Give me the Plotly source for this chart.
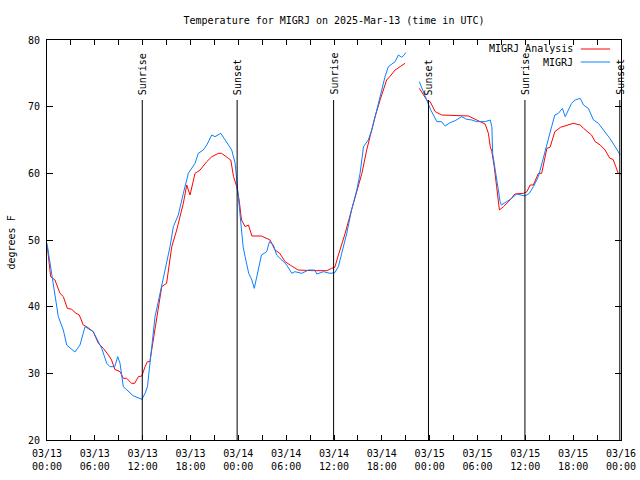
import pandas as pd
import plotly.graph_objects as go

# ---- data (hours after 2025-03-13 00:00 UTC, degrees F) ----
obs_hours = [0.0, 0.59, 0.88, 1.42, 2.05, 2.47, 3.5, 4.14, 4.77, 5.8, 6.86, 7.49, 7.9, 8.5, 8.87,
             9.16, 9.57, 10.4, 10.8, 11.9, 12.3, 12.6, 12.84, 13.55, 14.18, 14.8, 15.43, 15.85,
             16.47, 17.1, 17.73, 18.57, 18.98, 19.6, 20.04, 20.67, 21.08, 21.8, 22.6, 23.17, 23.6,
             23.8, 24.0, 24.2, 24.6, 24.85, 25.3, 25.7, 26.0, 26.5, 26.9, 27.56, 27.9, 28.4, 28.8,
             29.45, 30.07, 30.7, 31.1, 31.96, 32.8, 33.6, 33.84, 34.67, 35.5, 36.1, 36.55, 36.97,
             37.6, 38.2, 38.86, 39.27, 39.7, 40.3, 40.74, 41.37, 41.99, 42.4, 42.82, 43.66, 44.08,
             44.5, 44.8, 45.0, 45.8, 46.7, 47.5, 48.1, 48.9, 49.5, 49.94, 50.56, 51.2, 51.6, 52.0,
             52.66, 53.3, 53.9, 54.96, 55.6, 55.8, 55.9, 56.2, 56.5, 56.84, 57.0, 57.7, 58.3, 58.9,
             59.56, 59.97, 60.5, 61.0, 61.64, 62.27, 62.7, 63.3, 63.7, 64.15, 64.65, 65.0, 65.4,
             65.8, 66.25, 66.88, 67.3, 67.9, 68.55, 69.17, 69.8, 70.6, 71.27, 71.9]
obs_temps = [49.5, 45.0, 42.5, 38.5, 36.5, 34.25, 33.2, 34.25, 37.0, 36.25, 33.75, 31.5, 31.0, 31.0, 32.5,
             31.5, 28.0, 27.0, 26.65, 26.1, 27.0, 28.0, 30.5, 38.5, 42.0, 45.5, 49.0, 52.0,
             53.75, 57.0, 60.0, 61.5, 63.0, 63.5, 64.25, 65.75, 65.5, 66.0, 64.5, 63.5, 61.5,
             59.0, 55.5, 53.0, 49.0, 47.5, 45.0, 44.0, 42.75, 45.5, 47.75, 48.25, 49.75, 49.25, 47.75,
             47.0, 46.25, 45.0, 45.25, 45.0, 45.5, 45.5, 44.9, 45.25, 45.0, 45.1, 46.0, 48.0,
             51.0, 54.5, 57.5, 60.0, 64.0, 65.0, 66.5, 69.5, 72.5, 74.5, 76.0, 76.75, 77.75,
             77.4, 77.75, 78.1, None, 73.75, 71.5, 69.6, 67.75, 67.75, 67.1, 67.6, 67.9, 68.25, 68.5,
             68.1, 68.0, 67.75, 67.75, 68.0, 67.0, 63.0, 60.5, 58.5, 55.75, 55.25, 55.75, 56.25, 56.9,
             56.75, 56.6, 57.0, 58.0, 59.5, 62.5, 64.5, 67.0, 68.75, 69.0, 69.75, 68.5, 69.5,
             70.5, 71.0, 71.25, 70.25, 69.75, 68.0, 67.5, 66.5, 65.25, 64.0, 62.75]

ana_hours = [0.04, 0.46, 1.0, 1.63, 2.05, 2.55, 3.1, 3.64, 4.05, 4.55, 4.98, 5.8, 6.44, 7.07, 7.7,
             8.1, 8.5, 9.16, 9.58, 10.0, 10.6, 11.0, 11.46, 11.9, 12.3, 12.6, 12.9, 13.76, 14.39,
             15.0, 15.65, 16.27, 16.69, 17.1, 17.53, 17.94, 18.57, 19.2, 20.04, 20.67, 21.5, 21.9,
             22.75, 23.05, 23.4, 23.8, 24.1, 24.4, 24.85, 25.27, 25.7, 26.9, 27.98, 28.6, 29.2,
             29.86, 30.5, 31.5, 33.4, 35.1, 35.7, 36.1, 36.55, 37.4, 38.2, 38.86, 39.5, 40.1, 40.5,
             41.15, 41.78, 42.6, 43.0, 43.66, 44.3, 44.9, 45.8, 46.7, 47.64, 48.06, 48.7, 49.5,
             51.2, 52.87, 53.9, 54.96, 55.37, 55.6, 55.8, 56.1, 56.4, 56.75, 57.25, 57.9, 58.7,
             59.77, 60.2, 60.6, 61.0, 61.64, 62.05, 62.7, 63.1, 63.7, 64.4, 65.2, 66.0, 66.9, 67.3,
             68.3, 68.76, 69.4, 70.0, 70.6, 71.0, 71.35, 71.65, 72.0]
ana_temps = [49.0, 44.5, 44.0, 42.0, 41.5, 39.75, 39.6, 39.0, 38.75, 37.25, 37.0, 36.25, 34.5, 33.75, 32.75,
             32.0, 30.6, 30.25, 29.25, 29.25, 28.5, 28.5, 29.5, 29.6, 31.0, 31.75, 31.75, 38.25, 43.0,
             43.5, 49.0, 51.5, 53.5, 55.5, 58.25, 56.75, 60.0, 60.5, 61.75, 62.5, 63.0, 63.0,
             62.25, 62.0, 59.5, 58.0, 56.0, 53.0, 52.0, 52.25, 50.6, 50.6, 50.0, 48.5, 48.0,
             46.75, 46.25, 45.5, 45.4, 45.4, 45.75, 45.9, 47.75, 51.0, 54.5, 57.25, 60.0, 63.5, 65.5,
             68.5, 71.0, 74.0, 74.5, 75.5, 76.0, 76.5, None, 72.75, 71.0, 70.75, 69.25, 68.75,
             68.65, 68.6, 68.0, 67.4, 66.0, 64.0, 63.25, 61.0, 58.0, 54.5, 55.0, 55.75, 56.9,
             57.0, 57.25, 58.25, 58.25, 60.0, 60.0, 63.75, 63.9, 66.25, 66.9, 67.25, 67.5, 67.25, 66.75,
             65.75, 64.75, 64.25, 63.5, 62.25, 62.1, 61.0, 60.0, 59.9]

sun_hours = [11.95, 23.85, 35.95, 47.85, 59.95, 71.85]
sun_labels = ["Sunrise", "Sunset", "Sunrise", "Sunset", "Sunrise", "Sunset"]

x_tick_hours = [0, 6, 12, 18, 24, 30, 36, 42, 48, 54, 60, 66, 72]
x_tick_text = ["03/13<br>00:00", "03/13<br>06:00", "03/13<br>12:00", "03/13<br>18:00",
               "03/14<br>00:00", "03/14<br>06:00", "03/14<br>12:00", "03/14<br>18:00",
               "03/15<br>00:00", "03/15<br>06:00", "03/15<br>12:00", "03/15<br>18:00",
               "03/16<br>00:00"]
y_ticks = [20, 30, 40, 50, 60, 70, 80]

base = pd.Timestamp("2025-03-13 00:00")


def to_time(hours):
    return [base + pd.Timedelta(hours=h) for h in hours]


FONT = "DejaVu Sans Mono"
RED = "#ff0000"
BLUE = "#0a80ff"
W, H = 640, 480

fig = go.Figure()
fig.add_trace(go.Scatter(x=to_time(ana_hours), y=ana_temps, mode="lines",
                         name="MIGRJ Analysis", line=dict(color=RED, width=1),
                         connectgaps=False))
fig.add_trace(go.Scatter(x=to_time(obs_hours), y=obs_temps, mode="lines",
                         name="MIGRJ", line=dict(color=BLUE, width=1),
                         connectgaps=False))

for h, lab in zip(sun_hours, sun_labels):
    t = base + pd.Timedelta(hours=h)
    fig.add_shape(type="line", x0=t, x1=t, y0=20, y1=71, xref="x", yref="y",
                  line=dict(color="black", width=1))
    fig.add_annotation(x=t, y=71, xref="x", yref="y", text=lab, textangle=-90,
                       showarrow=False, yanchor="bottom", xanchor="center", yshift=3,
                       font=dict(family=FONT, size=10, color="black"))

# custom legend (text right-aligned, line sample on the right)
legend_items = [("MIGRJ Analysis", RED, 0.9775), ("MIGRJ", BLUE, 0.945)]
for name, col, yp in legend_items:
    fig.add_annotation(x=0.92, y=yp, xref="paper", yref="paper", text=name,
                       showarrow=False, xanchor="right", yanchor="middle",
                       font=dict(family=FONT, size=10, color="black"))
    fig.add_shape(type="line", x0=0.930, x1=0.981, y0=yp, y1=yp, xref="paper",
                  yref="paper", line=dict(color=col, width=1))

fig.add_annotation(x=(10.5 - 47) / 574, y=(440 - 243) / 400, xref="paper", yref="paper",
                   text="degrees F", textangle=-90, showarrow=False,
                   xanchor="center", yanchor="middle",
                   font=dict(family=FONT, size=10, color="black"))

fig.update_layout(
    width=W, height=H,
    margin=dict(l=47, r=19, t=40, b=40, autoexpand=False),
    paper_bgcolor="white", plot_bgcolor="white",
    showlegend=False,
    font=dict(family=FONT, size=10, color="black"),
    title=dict(text="Temperature for MIGRJ on 2025-Mar-13 (time in UTC)",
               x=0.5, xref="paper", xanchor="center", y=1 - 20 / H, yanchor="middle",
               font=dict(family=FONT, size=10, color="black")),
)
fig.update_xaxes(
    range=[base, base + pd.Timedelta(hours=72)],
    tickmode="array", tickvals=to_time(x_tick_hours), ticktext=x_tick_text,
    ticks="inside", ticklen=5, tickcolor="black", tickwidth=1,
    minor=dict(tickmode="array", tickvals=to_time([h + 3 for h in x_tick_hours[:-1]]),
               ticks="inside", ticklen=5, tickcolor="black"),
    showline=True, linecolor="black", linewidth=1, mirror="ticks",
    showgrid=False, zeroline=False, ticklabelstandoff=4, automargin=False,
)
fig.update_yaxes(
    range=[20, 80], tickmode="array", tickvals=y_ticks,
    ticks="inside", ticklen=6, tickcolor="black", tickwidth=1,
    showline=True, linecolor="black", linewidth=1, mirror="ticks",
    showgrid=False, zeroline=False, ticklabelstandoff=4, automargin=False,
)

fig.write_html("out.html", config={"displayModeBar": False},
               post_script="document.body.style.margin='0';")
